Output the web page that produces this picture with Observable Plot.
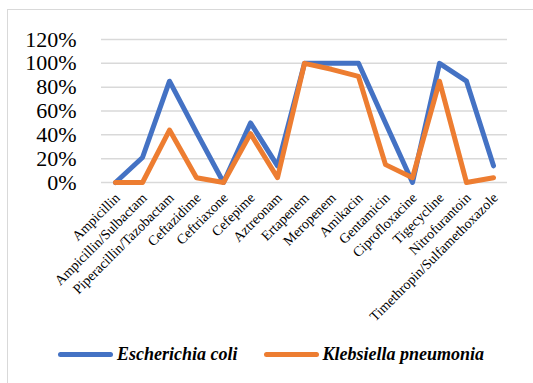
<!DOCTYPE html>
<html>
<head>
<meta charset="utf-8">
<script src="https://cdn.jsdelivr.net/npm/d3@7"></script>
<script src="https://cdn.jsdelivr.net/npm/@observablehq/plot@0.6"></script>
<style>
  html, body { margin: 0; padding: 0; background: #fff; overflow: hidden; }
  #chart { position: relative; width: 533px; height: 383px; overflow: hidden; }
  #frame { position: absolute; left: 7px; top: 9px; width: 560px; height: 400px;
           border: 1.5px solid #d9d9d9; box-sizing: border-box; }
  #plot { position: absolute; left: 0; top: 0; }
  #plot text { font-family: "Liberation Serif", "Times New Roman", serif; }
  #legend { position: absolute; left: 58px; top: 344px; display: flex; align-items: center;
            font-family: "Liberation Serif", "Times New Roman", serif; font-size: 18px;
            font-weight: bold; font-style: italic; color: #000; }
  .item { display: flex; align-items: center; }
  .swatch { width: 55px; height: 5px; border-radius: 3px; margin-right: 4px; }
</style>
</head>
<body>
<div id="chart">
  <div id="frame"></div>
  <div id="plot"></div>
  <div id="legend"></div>
</div>
<script>
// Antibiotics tested
const drugs = [
  "Ampicillin", "Ampicillin/Sulbactam", "Piperacillin/Tazobactam", "Ceftazidime",
  "Ceftriaxone", "Cefepime", "Aztreonam", "Ertapenem", "Meropenem", "Amikacin",
  "Gentamicin", "Ciprofloxacine", "Tigecycline", "Nitrofurantoin",
  "Timethropin/Sulfamethoxazole"
];
// Susceptibility (fraction) per organism
const ecoli = [0, 0.21, 0.85, 0.42, 0, 0.50, 0.14, 1.00, 1.00, 1.00, 0.50, 0, 1.00, 0.85, 0.14];
const kpneu = [0, 0, 0.44, 0.04, 0, 0.41, 0.04, 1.00, 0.95, 0.89, 0.15, 0.04, 0.85, 0, 0.04];
const seriesNames = ["Escherichia coli", "Klebsiella pneumonia"];
const seriesColors = ["#4472C4", "#ED7D31"];
const yTicks = [0, 0.2, 0.4, 0.6, 0.8, 1.0, 1.2];

const serif = "'Liberation Serif', 'Times New Roman', serif";
const rows = (vals, name) => drugs.map((d, i) => ({drug: d, value: vals[i], series: name}));
const rowsE = rows(ecoli, seriesNames[0]);
const rowsK = rows(kpneu, seriesNames[1]);

const chart = Plot.plot({
  width: 533,
  height: 330,
  marginLeft: 101,
  marginRight: 26,
  marginTop: 39,
  marginBottom: 148,
  style: {fontFamily: serif, color: "#000", background: "transparent"},
  x: {type: "point", domain: drugs, padding: 0.5, label: null},
  y: {domain: [0, 1.2], label: null},
  marks: [
    Plot.gridY(yTicks, {stroke: "#d9d9d9", strokeOpacity: 1, strokeWidth: 1.5}),
    Plot.axisY(yTicks, {tickSize: 0, tickPadding: 25, fontSize: 22, fontFamily: serif, label: null,
                        tickFormat: d => Math.round(d * 100) + "%"}),
    Plot.axisX({tickSize: 0, tickPadding: 13, dx: 2, tickRotate: -45, fontSize: 14, fontFamily: serif, label: null}),
    Plot.line(rowsE, {x: "drug", y: "value", stroke: seriesColors[0], strokeWidth: 5,
                      strokeLinejoin: "round", strokeLinecap: "round"}),
    Plot.line(rowsK, {x: "drug", y: "value", stroke: seriesColors[1], strokeWidth: 5,
                      strokeLinejoin: "round", strokeLinecap: "round"})
  ]
});
document.getElementById("plot").append(chart);

// Legend below the plot
const legend = document.getElementById("legend");
seriesNames.forEach((name, i) => {
  const item = document.createElement("div");
  item.className = "item";
  if (i > 0) item.style.marginLeft = "26px";
  const sw = document.createElement("span");
  sw.className = "swatch";
  sw.style.background = seriesColors[i];
  const label = document.createElement("span");
  label.textContent = name;
  item.append(sw, label);
  legend.append(item);
});
</script>
</body>
</html>
